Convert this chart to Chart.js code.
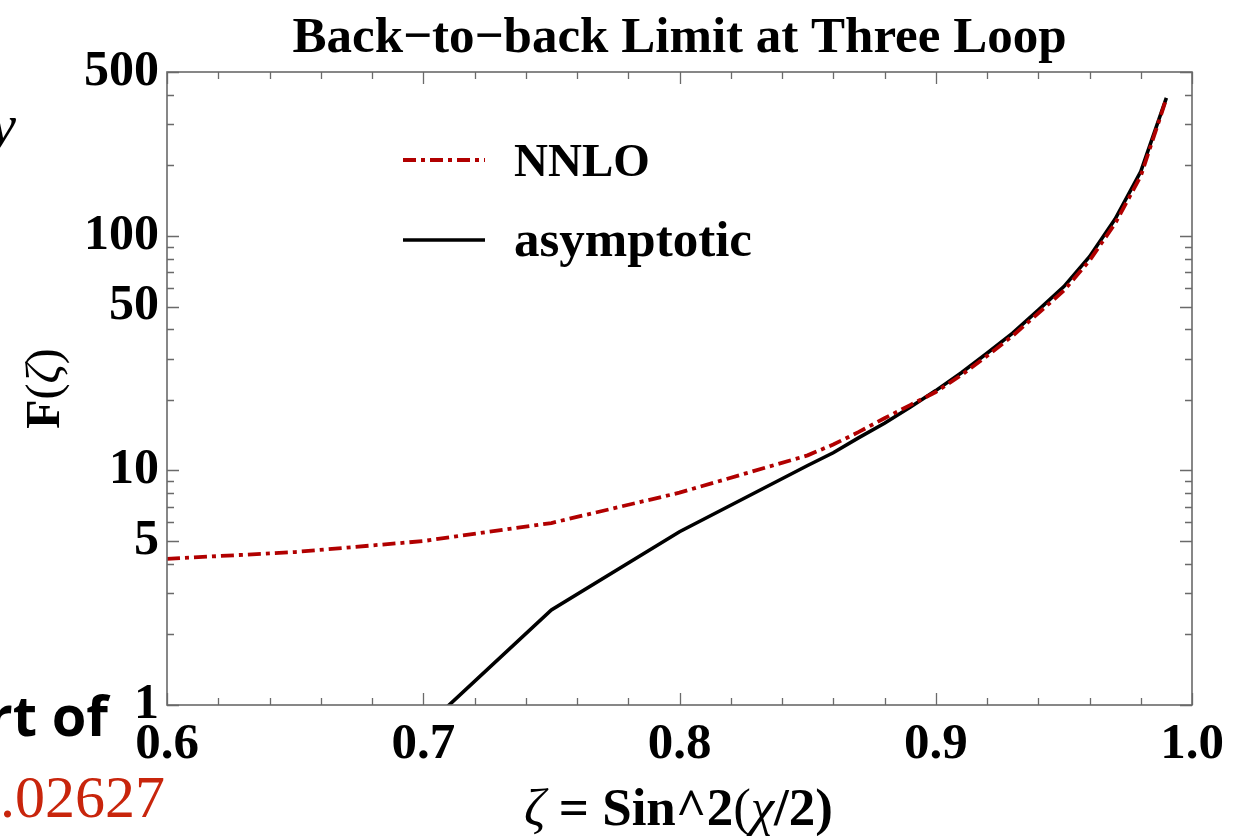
<!DOCTYPE html>
<html><head><meta charset="utf-8">
<script src="https://cdn.jsdelivr.net/npm/chart.js@4.4.1/dist/chart.umd.min.js"></script>
<style>html,body{margin:0;padding:0;background:#fff;overflow:hidden;}</style>
</head><body>
<canvas id="c" width="1239" height="836"></canvas>
<script>
// ---- data ----
const zetaNNLO   = [0.60,0.65,0.70,0.75,0.80,0.85,0.86,0.87,0.88,0.89,0.90,0.91,0.92,0.93,0.94,0.95,0.96,0.97,0.98,0.99];
const nnloValues = [4.2, 4.49,5.0, 5.97,8.04,11.6,12.9,14.6,16.7,19.0,21.6,25.5,30.8,37.5,46.8,58.5,78.5,113, 180, 385];
const zetaAsym   = [0.70,0.75,0.80,0.85,0.86,0.87,0.88,0.89,0.90,0.91,0.92,0.93,0.94,0.95,0.96,0.97,0.98,0.99];
const asymValues = [0.79,2.54,5.48,10.5,11.9,13.8,15.9,18.6,21.9,26.1,31.6,38.5,48.3,60.8,81.6,118, 188, 388];
const xTickValues = [0.6,0.7,0.8,0.9,1.0];
const yTickValues = [1,5,10,50,100,500];
const seriesLabels = ['NNLO','asymptotic'];
const titleText = 'Back\u2212to\u2212back Limit at Three Loop';

const SERIF = '"Liberation Serif","Times New Roman",serif';
const RED = '#b10000';

const toPts = (xs, ys) => xs.map((x,i)=>({x, y: ys[i]}));

function drawSegments(ctx, segs, x, y, align){
  let total = 0;
  segs.forEach(s=>{ctx.font=s.f; total += ctx.measureText(s.t).width;});
  let cx = align==='center' ? x - total/2 : x;
  segs.forEach(s=>{ctx.font=s.f; ctx.fillText(s.t, cx, y); cx += ctx.measureText(s.t).width;});
}

const framePlugin = {
  id:'frameAndDecor',
  afterDatasetsDraw(chart){
    const {ctx, chartArea:a, scales:{x,y}} = chart;
    ctx.save();
    ctx.strokeStyle = '#6a6a6a';
    ctx.lineWidth = 1.3;
    ctx.beginPath();
    for(let i=0;i<=20;i++){
      const v = 0.6 + i*0.02;
      const px = Math.round(x.getPixelForValue(v))+0.5;
      const L = (i%5===0)?12:7;
      ctx.moveTo(px, a.bottom); ctx.lineTo(px, a.bottom-L);
      ctx.moveTo(px, a.top); ctx.lineTo(px, a.top+L);
    }
    for(const d of [1,10,100]){
      for(let m=1;m<=9;m++){
        const v = m*d; if(v>500) break;
        const py = Math.round(y.getPixelForValue(v))+0.5;
        const L = (m===1||m===5)?12:7;
        ctx.moveTo(a.left, py); ctx.lineTo(a.left+L, py);
        ctx.moveTo(a.right, py); ctx.lineTo(a.right-L, py);
      }
    }
    ctx.stroke();
    ctx.lineWidth = 1.6;
    ctx.strokeRect(a.left, a.top, a.right-a.left, a.bottom-a.top);
    ctx.restore();
  },
  afterDraw(chart){
    const {ctx, chartArea:a} = chart;
    ctx.save();
    ctx.fillStyle = '#000';
    ctx.textBaseline = 'alphabetic';
    // title
    ctx.textAlign = 'center';
    ctx.font = 'bold 51px ' + SERIF;
    ctx.fillText(titleText, (a.left+a.right)/2, 52);
    // legend
    const ds = chart.data.datasets;
    const lx0 = a.left + 236, lx1 = a.left + 318;
    const rows = [a.top + 88, a.top + 168];
    const sizes = [47, 51];
    ds.forEach((d,i)=>{
      ctx.save();
      ctx.strokeStyle = d.borderColor; ctx.lineWidth = d.borderWidth;
      ctx.setLineDash(d.borderDash || []);
      ctx.beginPath(); ctx.moveTo(lx0, rows[i]); ctx.lineTo(lx1, rows[i]); ctx.stroke();
      ctx.restore();
      ctx.font = 'bold ' + sizes[i] + 'px ' + SERIF;
      ctx.textAlign = 'left';
      ctx.fillText(d.label, a.left + 347, rows[i] + 16);
    });
    // x axis title
    ctx.textAlign = 'left';
    drawSegments(ctx, [
      {t:'\u03b6', f:'italic 53px '+SERIF},
      {t:' = ', f:'bold 53px '+SERIF},
      {t:'Sin^2', f:'bold 53px '+SERIF},
      {t:'(', f:'53px '+SERIF},
      {t:'\u03c7', f:'italic 53px '+SERIF},
      {t:'/2)', f:'bold 53px '+SERIF}
    ], (a.left+a.right)/2 - 1, 825, 'center');
    // y axis title
    ctx.save();
    ctx.translate(59, (a.top+a.bottom)/2);
    ctx.rotate(-Math.PI/2);
    drawSegments(ctx, [
      {t:'F', f:'bold 48px '+SERIF},
      {t:'(', f:'48px '+SERIF},
      {t:'\u03b6', f:'italic 48px '+SERIF},
      {t:')', f:'48px '+SERIF}
    ], 0, 0, 'center');
    ctx.restore();
    // cropped slide fragments around the figure
    ctx.font = 'italic 58px ' + SERIF;
    ctx.textAlign = 'right';
    ctx.fillText('y', 16, 144);
    ctx.font = 'bold 56px "Open Sans",sans-serif';
    ctx.fillText('rt of', 108, 736);
    ctx.fillStyle = '#c8250c';
    ctx.font = '60px ' + SERIF;
    ctx.fillText('.02627', 165, 817);
    ctx.restore();
  }
};

new Chart(document.getElementById('c'), {
  type: 'line',
  data: {
    datasets: [
      {label: seriesLabels[0], data: toPts(zetaNNLO, nnloValues), borderColor: RED, borderWidth: 3.8,
       borderDash: [13,5,4,5], pointRadius: 0, tension: 0, fill: false},
      {label: seriesLabels[1], data: toPts(zetaAsym, asymValues), borderColor: '#000', borderWidth: 3.6,
       pointRadius: 0, tension: 0, fill: false}
    ]
  },
  options: {
    responsive: false,
    animation: false,
    layout: {padding: {left: 0, right: 47, top: 72, bottom: 0}},
    plugins: {
      legend: {display: false},
      tooltip: {enabled: false},
      title: {display: false}
    },
    scales: {
      x: {
        type: 'linear', min: 0.6, max: 1.0,
        afterBuildTicks: s => { s.ticks = xTickValues.map(v=>({value:v})); },
        afterFit: s => { s.height = 131; },
        grid: {display: false, drawTicks: false},
        border: {display: false},
        ticks: {autoSkip: false, maxRotation: 0, padding: 9, color: '#000',
          font: {family: SERIF, size: 51, weight: 'bold'},
          callback: v => Number(v).toFixed(1)}
      },
      y: {
        type: 'logarithmic', min: 1, max: 500,
        afterBuildTicks: s => { s.ticks = yTickValues.map(v=>({value:v})); },
        afterFit: s => { s.width = 167; },
        grid: {display: false, drawTicks: false},
        border: {display: false},
        ticks: {autoSkip: false, padding: 8, color: '#000',
          font: {family: SERIF, size: 50, weight: 'bold'},
          callback: v => String(v)}
      }
    }
  },
  plugins: [framePlugin]
});
</script>
</body></html>
